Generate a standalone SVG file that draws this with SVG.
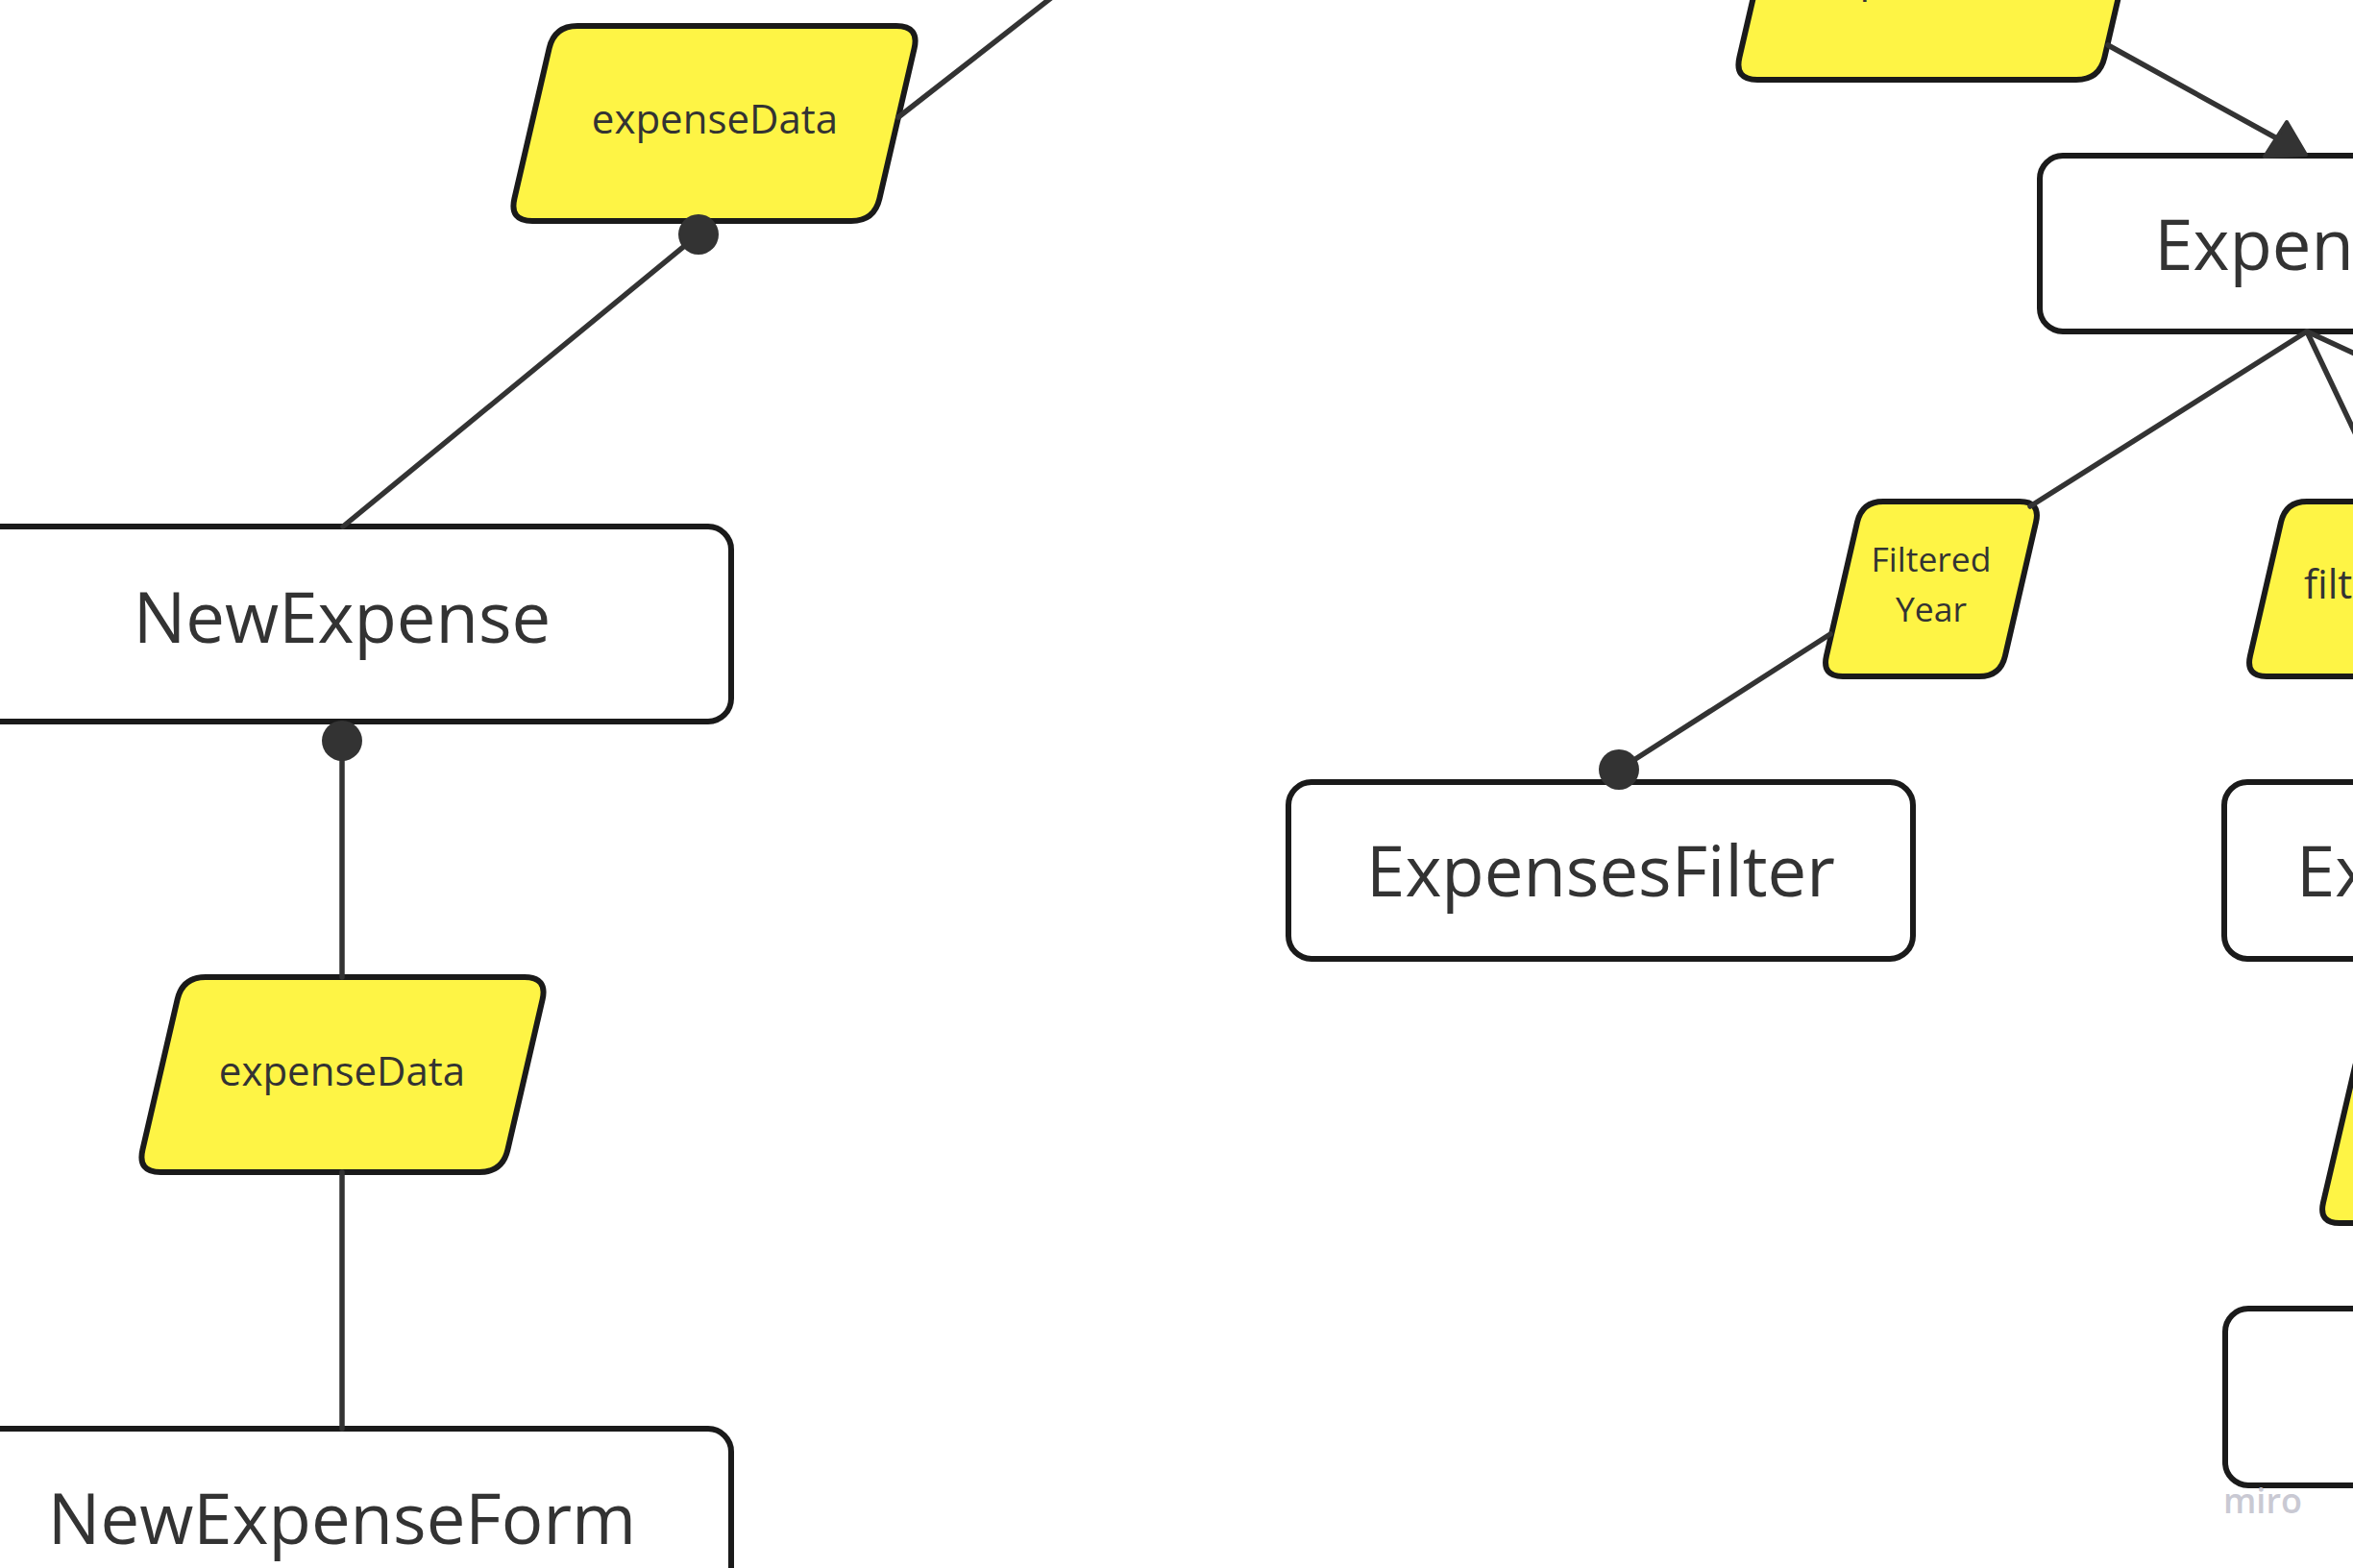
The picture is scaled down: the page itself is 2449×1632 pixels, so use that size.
<svg xmlns="http://www.w3.org/2000/svg" width="2449" height="1632" viewBox="0 0 2449 1632">
  <style>
    .box { fill: #ffffff; stroke: #1a1a1a; stroke-width: 6; }
    .para { fill: #fef445; stroke: #1a1a1a; stroke-width: 6; stroke-linejoin: round; }
    .conn { fill: none; stroke: #333333; stroke-width: 5.5; stroke-linecap: round; }
    .lbl { font-family: "Open Sans", "Noto Sans", "DejaVu Sans", sans-serif; fill: #333333; text-anchor: middle; }
    .big { font-size: 72.5px; }
    .small { font-size: 42px; }
    .mid { font-size: 35.5px; }
    .wm { font-family: "Open Sans", "Noto Sans", sans-serif; font-size: 36px; fill: #c9c9d3; font-weight: 600; }
  </style>
  <defs>
    <marker id="dot" markerUnits="userSpaceOnUse" viewBox="0 0 44 44" markerWidth="44" markerHeight="44" refX="22" refY="22" orient="0">
      <circle cx="22" cy="22" r="21" fill="#333333"/>
    </marker>
  </defs>
  <rect x="0" y="0" width="2449" height="1632" fill="#ffffff"/>

  <g id="node-newexpense">
    <rect class="box" x="-49" y="548" width="810" height="203" rx="24"/>
    <text class="lbl big" x="356" y="669">NewExpense</text>
  </g>
  <g id="node-newexpenseform">
    <rect class="box" x="-49" y="1487" width="810" height="203" rx="24"/>
    <text class="lbl big" x="356" y="1607">NewExpenseForm</text>
  </g>
  <g id="node-expensedata-1">
    <path class="para" d="M 601 27 L 933 27 Q 957 27 951.59 50.38 L 915.41 206.62 Q 910 230 886 230 L 554 230 Q 530 230 535.41 206.62 L 571.59 50.38 Q 577 27 601 27 Z"/>
    <text class="lbl small" x="744" y="139">expenseData</text>
  </g>
  <g id="node-expensedata-2">
    <path class="para" d="M 214 1017 L 546 1017 Q 570 1017 564.59 1040.38 L 528.41 1196.62 Q 523 1220 499 1220 L 167 1220 Q 143 1220 148.41 1196.62 L 184.59 1040.38 Q 190 1017 214 1017 Z"/>
    <text class="lbl small" x="356" y="1130">expenseData</text>
  </g>
  <g id="node-expensedata-3">
    <path class="para" d="M 1876 -120 L 2208 -120 Q 2232 -120 2226.59 -96.62 L 2190.41 59.62 Q 2185 83 2161 83 L 1829 83 Q 1805 83 1810.41 59.62 L 1846.59 -96.62 Q 1852 -120 1876 -120 Z"/>
    <text class="lbl small" x="2018" y="-8">expenseData</text>
  </g>
  <g id="node-expenses">
    <rect class="box" x="2123" y="162" width="556" height="183" rx="24"/>
    <text class="lbl big" x="2401" y="281">Expenses</text>
  </g>
  <g id="node-filtered-year">
    <path class="para" d="M 1960 522 L 2102 522 Q 2124 522 2119.05 543.44 L 2086.95 682.56 Q 2082 704 2060 704 L 1918 704 Q 1896 704 1900.95 682.56 L 1933.05 543.44 Q 1938 522 1960 522 Z"/>
    <text class="lbl mid" x="2010"><tspan x="2010" y="595">Filtered</tspan><tspan x="2010" y="647">Year</tspan></text>
  </g>
  <g id="node-filtered-expenses">
    <path class="para" d="M 2401 522 L 2757 522 Q 2779 522 2774.05 543.44 L 2741.95 682.56 Q 2737 704 2715 704 L 2359 704 Q 2337 704 2341.95 682.56 L 2374.05 543.44 Q 2379 522 2401 522 Z"/>
    <text class="lbl small" x="2398" y="623" style="text-anchor:start">filteredExpenses</text>
  </g>
  <g id="node-expensesfilter">
    <rect class="box" x="1341" y="814" width="650" height="184" rx="24"/>
    <text class="lbl big" x="1666" y="933">ExpensesFilter</text>
  </g>
  <g id="node-expenseslist">
    <rect class="box" x="2315" y="814" width="584" height="184" rx="24"/>
    <text class="lbl big" x="2390" y="933" style="text-anchor:start">ExpensesList</text>
  </g>
  <g id="node-right-data">
    <path class="para" d="M 2478 1089 L 2834 1089 Q 2856 1089 2850.99 1110.42 L 2818.01 1251.58 Q 2813 1273 2791 1273 L 2435 1273 Q 2413 1273 2418.01 1251.58 L 2450.99 1110.42 Q 2456 1089 2478 1089 Z"/>
  </g>
  <g id="node-right-box">
    <rect class="box" x="2316" y="1362" width="584" height="184" rx="24"/>
  </g>

  <g id="connectors">
    <path class="conn" d="M 935 122 L 1095 -3"/>
    <path class="conn" d="M 727 244 L 357 548" marker-start="url(#dot)"/>
    <path class="conn" d="M 356 771 L 356 1017" marker-start="url(#dot)"/>
    <path class="conn" d="M 356 1220 L 356 1487"/>
    <path class="conn" d="M 2194 47 L 2377 148"/>
    <polygon points="2380,127 2400,161 2357,163" fill="#333333" stroke="#333333" stroke-width="4" stroke-linejoin="round"/>
    <path class="conn" d="M 2401 345 L 2113 527"/>
    <path class="conn" d="M 1905 660 L 1685 801" marker-end="url(#dot)"/>
    <path class="conn" d="M 2401 345 L 2458 465"/>
    <path class="conn" d="M 2401 345 L 2470 377"/>
  </g>

  <text class="wm" x="2314" y="1575">miro</text>
</svg>
